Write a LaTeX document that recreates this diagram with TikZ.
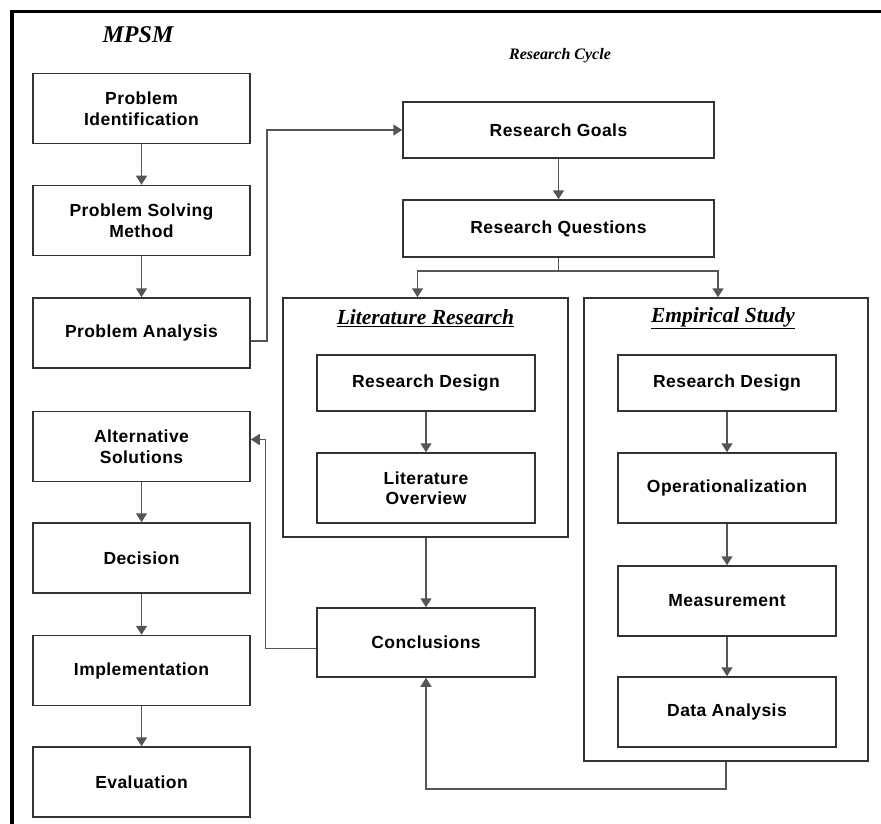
\documentclass[tikz,border=0pt]{standalone}
\usepackage{fontspec}
\setmainfont{Liberation Serif}
\newfontfamily\boxfont[LetterSpace=2.5]{Liberation Sans}
\usepackage{tikz}
\usetikzlibrary{arrows.meta, positioning, calc}

\definecolor{boxline}{HTML}{333333}
\definecolor{arrline}{HTML}{555555}

\tikzset{
  stepbox/.style={draw=boxline, line width=1.5pt, minimum width=217pt,
    minimum height=70pt, align=center, inner sep=0pt,
    font=\boxfont\bfseries\fontsize{17.5}{20.5}\selectfont},
  groupbox/.style={draw=boxline, line width=1.5pt, inner sep=0pt},
  grouptitle/.style={font=\bfseries\itshape\fontsize{21.5}{23}\selectfont},
  arr/.style={draw=arrline, line width=1.5pt, -{Triangle[length=9pt,width=11pt]}},
  link/.style={draw=arrline, line width=1.5pt}
}

\begin{document}
\begin{tikzpicture}[x=1pt, y=-1pt]

\useasboundingbox (0,0) rectangle (881,824);

% frame
\draw[line width=3.5pt] (12,824) -- (12,11.5) -- (881,11.5);

\node[font=\bfseries\itshape\fontsize{24}{26}\selectfont] (mpsm) at (138,35) {MPSM};
\node[font=\bfseries\itshape\fontsize{16}{18}\selectfont] (cycle) at (560,56) {Research Cycle};

% MPSM column
\node[stepbox] (pi) at (141.5,108.5) {Problem\\Identification};
\node[stepbox] (psm) at (141.5,220.5) {Problem Solving\\Method};
\node[stepbox] (pa) at (141.5,333) {Problem Analysis};
\node[stepbox] (as) at (141.5,446.5) {Alternative\\Solutions};
\node[stepbox] (dec) at (141.5,558) {Decision};
\node[stepbox] (impl) at (141.5,670.5) {Implementation};
\node[stepbox] (eval) at (141.5,782) {Evaluation};

% research cycle
\node[stepbox, minimum width=311pt, minimum height=56pt] (rg) at (558.5,130) {Research Goals};
\node[stepbox, minimum width=311pt, minimum height=57pt] (rq) at (558.5,228.5) {Research Questions};

\node[groupbox, minimum width=285pt, minimum height=239pt] (lit) at (425.5,417.5) {};
\node[grouptitle] at (425.5,318) {\underline{Literature Research}};
\node[stepbox, minimum width=218pt, minimum height=56pt] (lrd) at (426,383) {Research Design};
\node[stepbox, minimum width=218pt] (lo) at (426,488) {Literature\\Overview};

\node[groupbox, minimum width=284pt, minimum height=463pt] (emp) at (726,529.5) {};
\node[grouptitle] at (723,318) {\underline{Empirical Study}};
\node[stepbox, minimum width=218pt, minimum height=56pt] (erd) at (727,383) {Research Design};
\node[stepbox, minimum width=218pt] (op) at (727,488) {Operationalization};
\node[stepbox, minimum width=218pt] (meas) at (727,601) {Measurement};
\node[stepbox, minimum width=218pt] (da) at (727,712) {Data Analysis};

\node[stepbox, minimum width=218pt, minimum height=69pt] (concl) at (426,642.5) {Conclusions};

\coordinate (split) at (558.5,271);
\coordinate (back) at (726,789);

% connectors
\draw[arr] (pi) -- (psm);
\draw[arr] (psm) -- (pa);
\draw[arr] (as) -- (dec);
\draw[arr] (dec) -- (impl);
\draw[arr] (impl) -- (eval);

\draw[arr] ([yshift=-8pt]pa.east) -- ++(16,0) |- (rg.west);
\draw[arr] (rg) -- (rq);
\draw[link] (rq.south) -- (split);
\draw[arr] (split) -| ([xshift=-8pt]lit.north);
\draw[arr] (split) -| ([xshift=-8pt]emp.north);

\draw[arr] (lrd) -- (lo);
\draw[arr] (erd) -- (op);
\draw[arr] (op) -- (meas);
\draw[arr] (meas) -- (da);

\draw[arr] (lit.south -| concl) -- (concl);
\draw[arr] (emp.south) -- (back) -| (concl.south);
\draw[arr] ([yshift=-6pt]concl.west) -- ++(-51,0) |- ([yshift=7pt]as.east);

\end{tikzpicture}
\end{document}
